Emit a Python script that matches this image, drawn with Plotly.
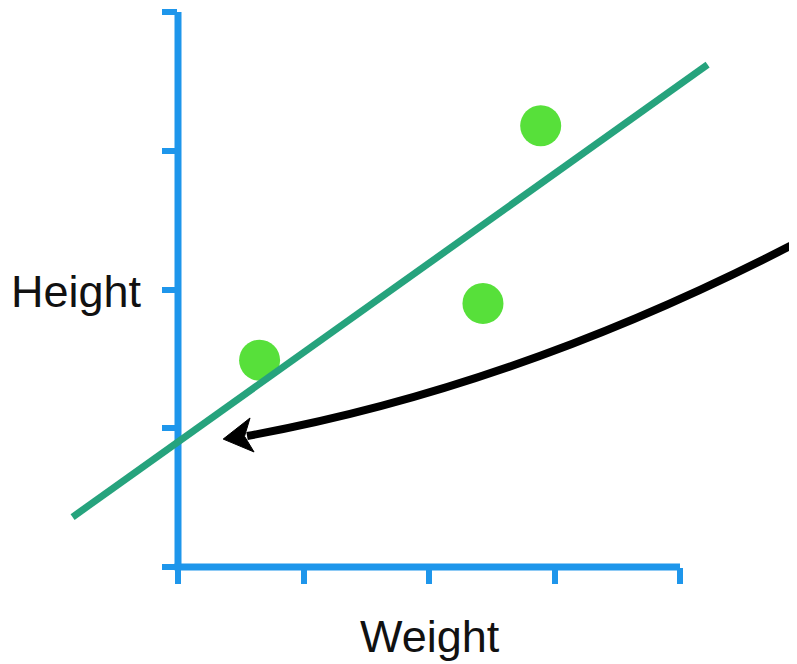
import plotly.graph_objects as go

# ---- data (axis units: ticks at 0..4) ----
weight = [0.65, 2.43, 2.89]
height = [1.49, 1.90, 3.18]
fit_x = [-0.84, 4.22]
fit_y = [0.36, 3.62]
tick_vals = [0, 1, 2, 3, 4]

# arrow (annotation) in axis units
arrow_start = (5.04, 2.39)
arrow_ctrl = (2.77, 1.31)
arrow_end = (0.55, 0.944)
head_tip = (0.36, 0.922)
head_up = (0.574, 1.074)
head_notch = (0.53, 0.942)
head_low = (0.606, 0.829)

# layout geometry (window pixels); page body has an 8px margin
WIN_W, WIN_H, OFF = 797, 664, 8
W, H = WIN_W - OFF, WIN_H - OFF
AX_L, AX_R, AX_T, AX_B = 178, 680, 12, 567
sx = (AX_R - AX_L) / 4
sy = (AX_B - AX_T) / 4

BLUE = "#1E96EB"
TEAL = "#26A37D"
GREEN = "#57E03A"
FONT = dict(family="Liberation Sans, Arial", size=45, color="#111111")

fig = go.Figure()
fig.add_trace(go.Scatter(x=weight, y=height, mode="markers",
                         marker=dict(size=41, color=GREEN, line=dict(width=0)),
                         cliponaxis=False, hoverinfo="skip", showlegend=False))
fig.add_trace(go.Scatter(x=fit_x, y=fit_y, mode="lines",
                         line=dict(color=TEAL, width=7),
                         hoverinfo="skip", showlegend=False))
# invisible trace to create the visible axes subplot
fig.add_trace(go.Scatter(x=[0], y=[0], xaxis="x2", yaxis="y2", mode="markers",
                         marker=dict(opacity=0), hoverinfo="skip", showlegend=False))

# axis lines (drawn on the value scale so they sit exactly on the 0 ticks)
fig.add_shape(type="line", xref="x", yref="y", x0=0, x1=0, y0=0, y1=tick_vals[-1],
              line=dict(color=BLUE, width=7), layer="below")
fig.add_shape(type="line", xref="x", yref="y", x0=-0.028, x1=tick_vals[-1], y0=0, y1=0,
              line=dict(color=BLUE, width=7), layer="below")

p = lambda pt: f"{pt[0]},{pt[1]}"
fig.add_shape(type="path", xref="x", yref="y",
              path=f"M {p(arrow_start)} Q {p(arrow_ctrl)} {p(arrow_end)}",
              line=dict(color="black", width=8), fillcolor="rgba(0,0,0,0)")
fig.add_shape(type="path", xref="x", yref="y",
              path=f"M {p(head_tip)} L {p(head_up)} L {p(head_notch)} L {p(head_low)} Z",
              line=dict(color="black", width=1), fillcolor="black")

axis_common = dict(range=[0, 4], showline=False, ticks="outside", tickvals=tick_vals,
                   tickwidth=6, tickcolor=BLUE, showticklabels=False,
                   showgrid=False, zeroline=False)

fig.update_layout(
    width=W, height=H,
    margin=dict(l=0, r=0, t=0, b=0),
    paper_bgcolor="white", plot_bgcolor="rgba(0,0,0,0)",
    xaxis=dict(range=[(OFF - AX_L) / sx, (WIN_W - AX_L) / sx], domain=[0, 1], visible=False),
    yaxis=dict(range=[(AX_B - WIN_H) / sy, (AX_B - OFF) / sy], domain=[0, 1], visible=False),
    xaxis2=dict(domain=[(AX_L - OFF) / W, (AX_R - OFF) / W], anchor="y2", ticklen=16,
                **axis_common),
    yaxis2=dict(domain=[(WIN_H - AX_B) / H, (WIN_H - AX_T) / H], anchor="x2", ticklen=15,
                **axis_common),
    annotations=[
        dict(text="Height", xref="paper", yref="paper",
             x=(76.5 - OFF) / W, y=(WIN_H - 291) / H,
             xanchor="center", yanchor="middle", showarrow=False, font=FONT),
        dict(text="Weight", xref="paper", yref="paper",
             x=(430 - OFF) / W, y=(WIN_H - 636) / H,
             xanchor="center", yanchor="middle", showarrow=False, font=FONT),
    ],
)

fig.write_html("out.html")
